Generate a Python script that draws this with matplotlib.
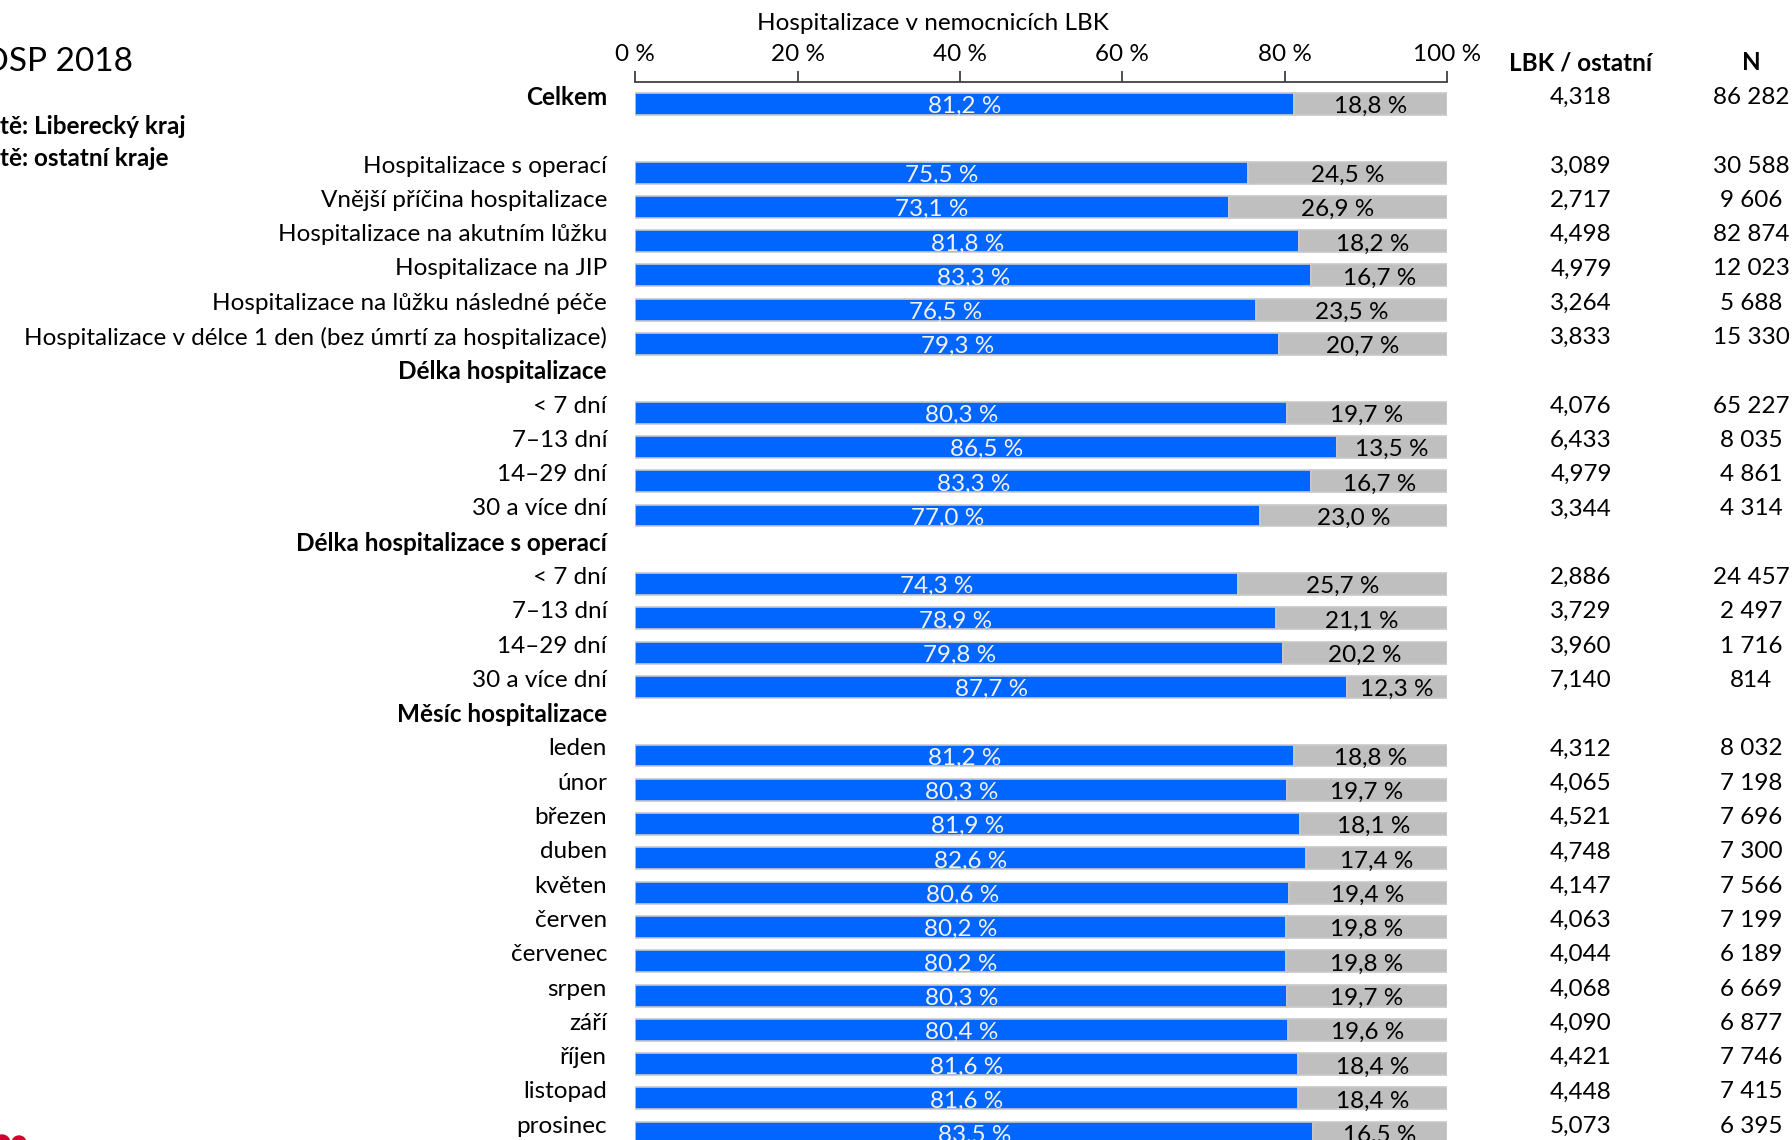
import matplotlib
matplotlib.use("Agg")
import matplotlib.pyplot as plt
from matplotlib.transforms import blended_transform_factory
from matplotlib.patches import Ellipse

plt.rcParams['font.family'] = ['Lato', 'DejaVu Sans']

# ---------------- data ----------------
labels = [
    "Celkem", "",
    "Hospitalizace s operací",
    "Vnější příčina hospitalizace",
    "Hospitalizace na akutním lůžku",
    "Hospitalizace na JIP",
    "Hospitalizace na lůžku následné péče",
    "Hospitalizace v délce 1 den (bez úmrtí za hospitalizace)",
    "Délka hospitalizace",
    "< 7 dní", "7–13 dní", "14–29 dní", "30 a více dní",
    "Délka hospitalizace s operací",
    "< 7 dní", "7–13 dní", "14–29 dní", "30 a více dní",
    "Měsíc hospitalizace",
    "leden", "únor", "březen", "duben", "květen", "červen",
    "červenec", "srpen", "září", "říjen", "listopad", "prosinec",
]
bold_rows = [0, 8, 13, 18]
lbk_pct = [81.2, None, 75.5, 73.1, 81.8, 83.3, 76.5, 79.3, None,
           80.3, 86.5, 83.3, 77.0, None,
           74.3, 78.9, 79.8, 87.7, None,
           81.2, 80.3, 81.9, 82.6, 80.6, 80.2, 80.2, 80.3, 80.4, 81.6, 81.6, 83.5]
other_pct = [18.8, None, 24.5, 26.9, 18.2, 16.7, 23.5, 20.7, None,
             19.7, 13.5, 16.7, 23.0, None,
             25.7, 21.1, 20.2, 12.3, None,
             18.8, 19.7, 18.1, 17.4, 19.4, 19.8, 19.8, 19.7, 19.6, 18.4, 18.4, 16.5]
ratio = ["4,318", "", "3,089", "2,717", "4,498", "4,979", "3,264", "3,833", "",
         "4,076", "6,433", "4,979", "3,344", "",
         "2,886", "3,729", "3,960", "7,140", "",
         "4,312", "4,065", "4,521", "4,748", "4,147", "4,063", "4,044", "4,068",
         "4,090", "4,421", "4,448", "5,073"]
counts = ["86 282", "", "30 588", "9 606", "82 874", "12 023", "5 688", "15 330", "",
          "65 227", "8 035", "4 861", "4 314", "",
          "24 457", "2 497", "1 716", "814", "",
          "8 032", "7 198", "7 696", "7 300", "7 566", "7 199", "6 189", "6 669",
          "6 877", "7 746", "7 415", "6 395"]
xticks = [0, 20, 40, 60, 80, 100]
axis_title = "Hospitalizace v nemocnicích LBK"
col_ratio_title = "LBK / ostatní"
col_n_title = "N"
title = "OSP 2018"
legend_lines = ["tě: Liberecký kraj", "tě: ostatní kraje"]

# ---------------- layout ----------------
W, H = 1792, 1140
fig = plt.figure(figsize=(W / 100, H / 100), dpi=100)

ax_l, ax_r = 635.4, 1446.9
top_px = 82
row0_px, pitch_px = 104, 34.29
ax = fig.add_axes([ax_l / W, 0, (ax_r - ax_l) / W, 1 - top_px / H])
ymin = (top_px - row0_px) / pitch_px
ymax = (H - row0_px) / pitch_px
ax.set_xlim(0, 100)
ax.set_ylim(ymax, ymin)

BLUE = "#0066FF"
GRAY = "#BFBFBF"
EDGE = "#C8C8C8"
bh = 0.64
fs = 17.5

for i, (a, b) in enumerate(zip(lbk_pct, other_pct)):
    if a is None:
        continue
    ax.barh(i, a, height=bh, color=BLUE, edgecolor=EDGE, linewidth=1.2, zorder=2)
    ax.barh(i, b, left=a, height=bh, color=GRAY, edgecolor=EDGE, linewidth=1.2, zorder=2)
    ax.text(a / 2, i + 0.08, f"{a:.1f} %".replace(".", ","), ha="center", va="center",
            color="#F2F2F2", fontsize=fs, zorder=3)
    ax.text(a + b / 2, i + 0.08, f"{b:.1f} %".replace(".", ","), ha="center", va="center",
            color="black", fontsize=fs, zorder=3)

# axis styling
for s in ["left", "right", "bottom"]:
    ax.spines[s].set_visible(False)
ax.spines["top"].set_color("#404040")
ax.spines["top"].set_linewidth(1.3)
ax.xaxis.tick_top()
ax.set_xticks(xticks)
ax.set_xticklabels([f"{t} %" for t in xticks], fontsize=fs)
ax.tick_params(axis="x", direction="out", length=8, width=1.3, color="#404040", pad=4.5)
ax.set_yticks([])

# row labels & side columns
tr = blended_transform_factory(fig.transFigure, ax.transData)
for i, lab in enumerate(labels):
    if lab:
        ax.text(607 / W, i - 0.19, lab, transform=tr, ha="right", va="center",
                fontsize=fs, fontweight="bold" if i in bold_rows else "normal")
    if ratio[i]:
        ax.text(1581 / W, i - 0.19, ratio[i], transform=tr, ha="center", va="center", fontsize=fs)
    if counts[i]:
        ax.text(1751 / W, i - 0.19, counts[i], transform=tr, ha="center", va="center", fontsize=fs)

fig.text(1581 / W, 1 - 63 / H, col_ratio_title, ha="center", va="center", fontsize=fs, fontweight="bold")
fig.text(1751 / W, 1 - 63 / H, col_n_title, ha="center", va="center", fontsize=fs, fontweight="bold")
fig.text(933 / W, 1 - 24 / H, axis_title, ha="center", va="center", fontsize=fs)

fig.text(133 / W, 1 - 62 / H, title, ha="right", va="center", fontsize=24)
fig.text(0, 1 - 126 / H, legend_lines[0], ha="left", va="center", fontsize=fs, fontweight="bold")
fig.text(0, 1 - 158 / H, legend_lines[1], ha="left", va="center", fontsize=fs, fontweight="bold")

# red logo fragment at bottom-left
for cx, r in [(2, 8), (19, 7)]:
    fig.add_artist(Ellipse((cx / W, 1 - 1143 / H), 2 * r / W, 2 * r / H,
                           transform=fig.transFigure, color="#D5002F"))

fig.savefig("out.png", dpi=100)
